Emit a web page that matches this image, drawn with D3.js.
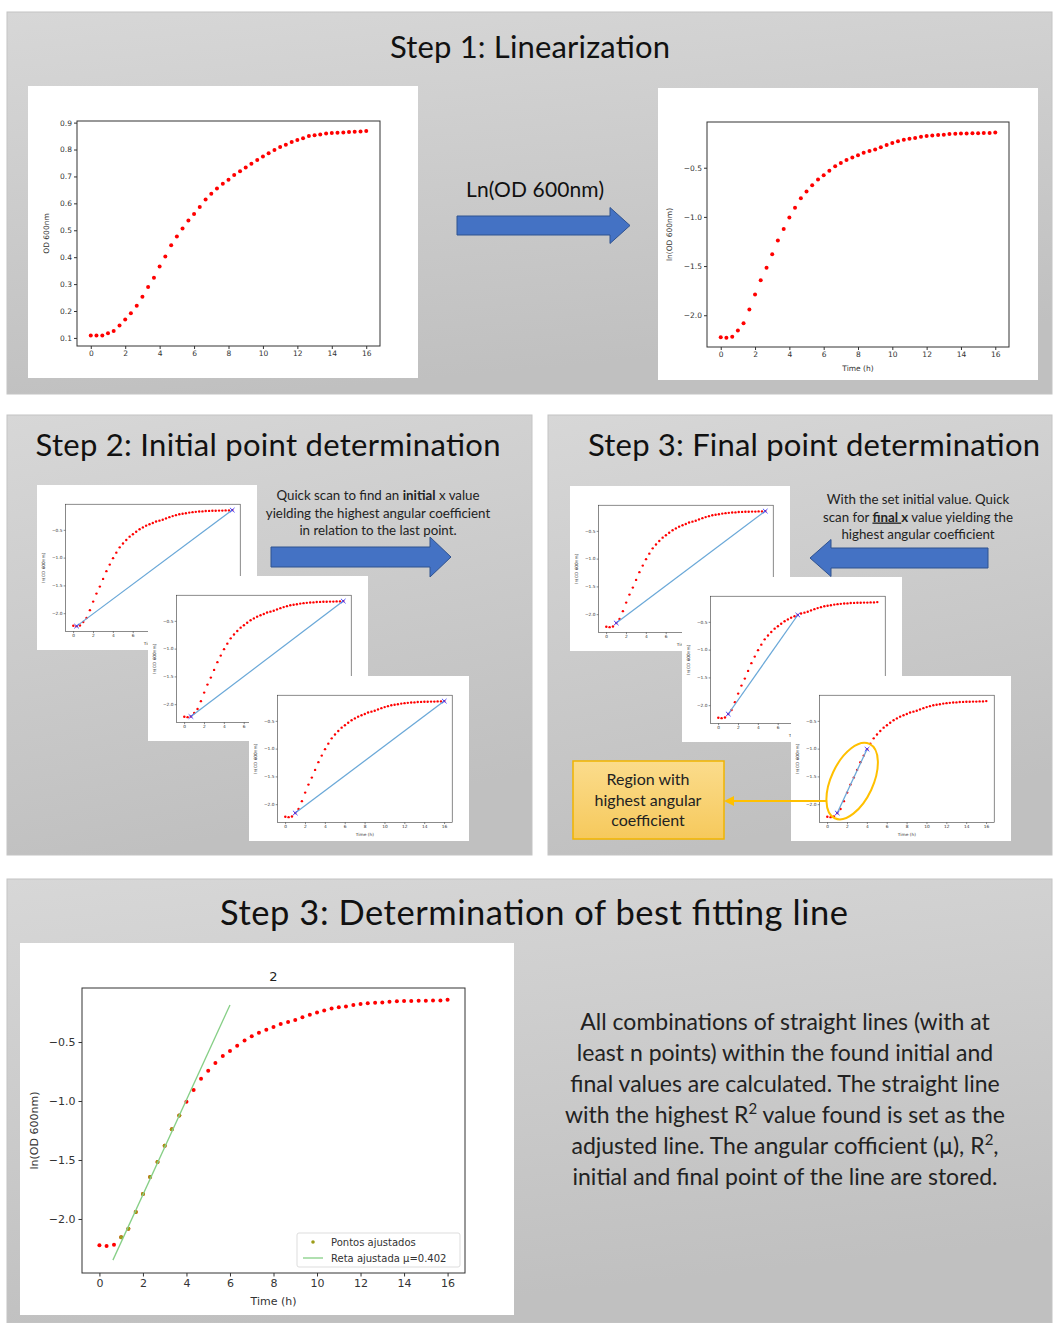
<!DOCTYPE html>
<html>
<head>
<meta charset="utf-8">
<script src="https://cdn.jsdelivr.net/npm/d3@7"></script>
<style>
  body { margin: 0; background: #fff; }
</style>
</head>
<body>
<svg id="fig" width="1055" height="1323"></svg>
<script>
// sampling times (h), one reading every 20 min
const timeH = [0, 0.33, 0.67, 1, 1.33, 1.67, 2, 2.33, 2.67, 3, 3.33, 3.67, 4, 4.33, 4.67, 5, 5.33, 5.67,
  6, 6.33, 6.67, 7, 7.33, 7.67, 8, 8.33, 8.67, 9, 9.33, 9.67, 10, 10.33, 10.67, 11, 11.33, 11.67,
  12, 12.33, 12.67, 13, 13.33, 13.67, 14, 14.33, 14.67, 15, 15.33, 15.67, 16];

// OD 600nm
const odValues = [0.109, 0.109, 0.109, 0.117, 0.126, 0.146, 0.168, 0.192, 0.220, 0.253, 0.289, 0.324,
  0.365, 0.403, 0.444, 0.477, 0.507, 0.536, 0.560, 0.586, 0.614, 0.636, 0.655, 0.673, 0.688, 0.705,
  0.719, 0.733, 0.747, 0.761, 0.774, 0.786, 0.798, 0.809, 0.818, 0.828, 0.835, 0.842, 0.850, 0.853,
  0.856, 0.860, 0.861, 0.862, 0.863, 0.865, 0.866, 0.867, 0.869];

// ln(OD 600nm)
const lnOdValues = [-2.223, -2.229, -2.218, -2.155, -2.082, -1.941, -1.788, -1.644, -1.517, -1.379,
  -1.240, -1.122, -1.006, -0.907, -0.811, -0.743, -0.678, -0.619, -0.576, -0.531, -0.486, -0.452,
  -0.421, -0.395, -0.373, -0.347, -0.331, -0.314, -0.291, -0.268, -0.249, -0.232, -0.215, -0.206,
  -0.198, -0.186, -0.178, -0.172, -0.167, -0.164, -0.158, -0.155, -0.153, -0.153, -0.150, -0.150,
  -0.147, -0.147, -0.141];

// tick labels
const timeTicks = [0, 2, 4, 6, 8, 10, 12, 14, 16];
const odTicks = [0.1, 0.2, 0.3, 0.4, 0.5, 0.6, 0.7, 0.8, 0.9];
const lnTicks = [-0.5, -1.0, -1.5, -2.0];

// scan steps: [start index, end index] of the straight line on each mini plot
const initialScan = [[1, 48], [2, 48], [3, 48]];
const finalScan = [[3, 48], [3, 24], [3, 12]];

// best fitting line
const fittedPoints = [3, 11];        // first and last index of "Pontos ajustados"
const fitMu = 0.402;
const fitIntercept = -2.598;
const fitLineT = [0.62, 6.0];

const svg = d3.select("#fig");
const defs = svg.append("defs");

const grad = defs.append("linearGradient").attr("id", "panelGrad")
  .attr("x1", 0).attr("y1", 0).attr("x2", 0.25).attr("y2", 1);
grad.append("stop").attr("offset", "0%").attr("stop-color", "#d7d7d7");
grad.append("stop").attr("offset", "100%").attr("stop-color", "#c0c0c0");

const boxGrad = defs.append("linearGradient").attr("id", "boxGrad")
  .attr("x1", 0).attr("y1", 0).attr("x2", 0).attr("y2", 1);
boxGrad.append("stop").attr("offset", "0%").attr("stop-color", "#fbdc8c");
boxGrad.append("stop").attr("offset", "100%").attr("stop-color", "#f6c95c");

defs.append("marker").attr("id", "yArrow")
  .attr("viewBox", "0 0 10 10").attr("refX", 2).attr("refY", 5)
  .attr("markerWidth", 5).attr("markerHeight", 5).attr("orient", "auto-start-reverse")
  .append("path").attr("d", "M0,0 L10,5 L0,10 z").attr("fill", "#ffc000");

// gray panels
const panels = [
  { x: 7, y: 12, w: 1045, h: 382 },
  { x: 7, y: 415, w: 525, h: 440 },
  { x: 548, y: 415, w: 504, h: 440 },
  { x: 7, y: 879, w: 1045, h: 444 }
];
svg.selectAll("rect.panel").data(panels).join("rect")
  .attr("class", "panel")
  .attr("x", d => d.x).attr("y", d => d.y)
  .attr("width", d => d.w).attr("height", d => d.h)
  .attr("fill", "url(#panelGrad)")
  .attr("stroke", "#c4c4c4");

const titleFont = "Lato, 'Open Sans', sans-serif";
function title(x, y, txt, size, len) {
  svg.append("text").attr("x", x).attr("y", y)
    .attr("text-anchor", "middle").attr("font-family", titleFont)
    .attr("font-size", size).attr("fill", "#111")
    .attr("textLength", len).attr("lengthAdjust", "spacing").text(txt);
}
title(530, 58, "Step 1: Linearization", 31, 280);
title(268, 456, "Step 2: Initial point determination", 31, 465);
title(814, 456, "Step 3: Final point determination", 31, 452);
title(534, 925, "Step 3: Determination of best fitting line", 34.5, 628);

// block arrow (tip left or right of tail)
function blockArrow(tail, tip, yc, shaft, head, headLen) {
  const dir = tip > tail ? 1 : -1;
  const hx = tip - dir * headLen;
  const pts = [[tail, yc - shaft / 2], [hx, yc - shaft / 2], [hx, yc - head / 2], [tip, yc],
    [hx, yc + head / 2], [hx, yc + shaft / 2], [tail, yc + shaft / 2]];
  svg.append("path").attr("d", d3.line()(pts) + "Z")
    .attr("fill", "#4472c4").attr("stroke", "#2f528f").attr("stroke-width", 1);
}

// generic matplotlib-like plot card
function drawPlot(parent, o) {
  const g = parent.append("g").attr("transform", o.transform);
  g.append("rect").attr("width", o.w).attr("height", o.h).attr("fill", "#fff");

  const x = d3.scaleLinear().domain([-0.8, 16.8]).range([o.left, o.right]);
  const y = d3.scaleLinear().domain(o.yDomain).range([o.bottom, o.top]);

  const xa = g.append("g").attr("transform", `translate(0,${o.bottom})`)
    .call(d3.axisBottom(x).tickValues(timeTicks).tickFormat(d3.format("d"))
      .tickSizeOuter(0).tickSize(o.tick).tickPadding(o.pad));
  const ya = g.append("g").attr("transform", `translate(${o.left},0)`)
    .call(d3.axisLeft(y).tickValues(o.yTicks).tickFormat(d3.format(".1f"))
      .tickSizeOuter(0).tickSize(o.tick).tickPadding(o.pad));
  [xa, ya].forEach(a => {
    a.select(".domain").remove();
    a.selectAll("line").attr("stroke", "#333").attr("stroke-width", o.frameW);
    a.selectAll("text").attr("font-family", "'DejaVu Sans', sans-serif")
      .attr("font-size", o.font).attr("fill", "#333");
  });

  g.append("rect").attr("x", o.left).attr("y", o.top)
    .attr("width", o.right - o.left).attr("height", o.bottom - o.top)
    .attr("fill", "none").attr("stroke", "#333").attr("stroke-width", o.frameW);

  if (o.ylabel) {
    g.append("text")
      .attr("transform", `translate(${o.ylabelX},${(o.top + o.bottom) / 2}) rotate(-90)`)
      .attr("text-anchor", "middle").attr("font-family", "'DejaVu Sans', sans-serif")
      .attr("font-size", o.font).attr("fill", "#333").text(o.ylabel);
  }
  if (o.xlabel) {
    g.append("text").attr("x", (o.left + o.right) / 2).attr("y", o.xlabelY)
      .attr("text-anchor", "middle").attr("font-family", "'DejaVu Sans', sans-serif")
      .attr("font-size", o.font).attr("fill", "#333").text(o.xlabel);
  }

  g.append("g").selectAll("circle").data(o.values).join("circle")
    .attr("cx", (d, i) => x(timeH[i])).attr("cy", d => y(d))
    .attr("r", o.r).attr("fill", "#ff0000");

  return { g, x, y };
}

// layout shared by every ln(OD) card (380 x 292 base size)
const lnLayout = {
  w: 380, h: 292, left: 49, right: 351, top: 34, bottom: 259,
  yDomain: [-2.323, -0.035], yTicks: lnTicks, tick: 3, pad: 2, font: 7.5, frameW: 1,
  ylabel: "ln(OD 600nm)", ylabelX: 14, xlabel: "Time (h)", xlabelY: 283,
  values: lnOdValues, r: 2
};

// ---- Step 1 ----
drawPlot(svg, {
  transform: "translate(28,86)", w: 390, h: 292,
  left: 49, right: 352, top: 35, bottom: 260,
  yDomain: [0.07, 0.906], yTicks: odTicks, tick: 3, pad: 2, font: 7.5, frameW: 1,
  ylabel: "OD 600nm", ylabelX: 21, values: odValues, r: 2
});
drawPlot(svg, Object.assign({}, lnLayout, { transform: "translate(658,88)" }));

blockArrow(457, 630, 225.5, 19, 36, 20);
svg.append("text").attr("x", 535).attr("y", 197).attr("text-anchor", "middle")
  .attr("font-family", titleFont).attr("font-size", 21).attr("fill", "#111")
  .attr("textLength", 138).attr("lengthAdjust", "spacing")
  .text("Ln(OD 600nm)");

// ---- mini scan cards ----
const miniSX = 220 / 380, miniSY = 165 / 292;
function miniCard(cx, cy, seg) {
  const p = drawPlot(svg, Object.assign({}, lnLayout, {
    transform: `translate(${cx},${cy}) scale(${miniSX},${miniSY})`, r: 2.1
  }));
  const ends = seg.map(i => [p.x(timeH[i]), p.y(lnOdValues[i])]);
  p.g.append("path").attr("d", d3.line()(ends))
    .attr("stroke", "#6aa8d8").attr("stroke-width", 2.2).attr("fill", "none");
  p.g.selectAll("path.xm").data(ends).join("path").attr("class", "xm")
    .attr("d", d => `M${d[0] - 4},${d[1] - 4}L${d[0] + 4},${d[1] + 4}M${d[0] - 4},${d[1] + 4}L${d[0] + 4},${d[1] - 4}`)
    .attr("stroke", "#3b3bff").attr("stroke-width", 1.6);
  return { p, ends, cx, cy };
}

// Step 2
const step2Pos = [[37, 485], [148, 576], [249, 676]];
step2Pos.forEach((pos, k) => miniCard(pos[0], pos[1], initialScan[k]));

const bodyFont = "Lato, 'Open Sans', sans-serif";
function textBlock(x, y, lh, size, lines) {
  const t = svg.append("text").attr("font-family", bodyFont).attr("font-size", size)
    .attr("fill", "#222").attr("text-anchor", "middle");
  lines.forEach((parts, i) => {
    const line = t.append("tspan").attr("x", x).attr("y", y + i * lh);
    parts.forEach(p => {
      const s = line.append("tspan").text(p.t);
      if (p.b) s.attr("font-weight", "bold");
      if (p.u) s.attr("text-decoration", "underline");
      if (p.sup) s.attr("baseline-shift", "super").attr("font-size", size * 0.65);
    });
  });
}

textBlock(378, 500, 17.5, 13.3, [
  [{ t: "Quick scan to find an " }, { t: "initial", b: true }, { t: " x value" }],
  [{ t: "yielding the highest angular coefficient" }],
  [{ t: "in relation to the last point." }]
]);
blockArrow(271, 451, 557, 20, 40, 21);

// Step 3 (final point)
const step3Pos = [[570, 486], [682, 577], [791, 676]];
let lastCard;
step3Pos.forEach((pos, k) => { lastCard = miniCard(pos[0], pos[1], finalScan[k]); });

textBlock(918, 504, 17.5, 13.3, [
  [{ t: "With the set initial value. Quick" }],
  [{ t: "scan for " }, { t: "final ", b: true, u: true }, { t: "x", b: true }, { t: " value yielding the" }],
  [{ t: "highest angular coefficient" }]
]);
blockArrow(988, 810, 558, 20, 37, 21);

// ellipse around the steepest region on the last card
{
  const a = lastCard.ends[0], b = lastCard.ends[1];
  const ex = lastCard.cx + miniSX * (a[0] + b[0]) / 2;
  const ey = lastCard.cy + miniSY * (a[1] + b[1]) / 2;
  svg.append("ellipse").attr("cx", ex).attr("cy", ey).attr("rx", 21).attr("ry", 41)
    .attr("transform", `rotate(25,${ex},${ey})`)
    .attr("fill", "none").attr("stroke", "#ffc000").attr("stroke-width", 2);
  svg.append("line").attr("x1", ex - 25).attr("y1", 801).attr("x2", 732).attr("y2", 801)
    .attr("stroke", "#ffc000").attr("stroke-width", 2).attr("marker-end", "url(#yArrow)");
}

svg.append("rect").attr("x", 573).attr("y", 761).attr("width", 151).attr("height", 78)
  .attr("fill", "url(#boxGrad)").attr("stroke", "#f0b400").attr("stroke-width", 1.5);
textBlock(648, 785, 20.5, 16, [
  [{ t: "Region with" }],
  [{ t: "highest angular" }],
  [{ t: "coefficient" }]
]);

// ---- best fitting line ----
const best = drawPlot(svg, {
  transform: "translate(20,943)", w: 494, h: 372,
  left: 62, right: 445, top: 45, bottom: 330,
  yDomain: [-2.458, -0.042], yTicks: lnTicks, tick: 3.5, pad: 3, font: 11, frameW: 1,
  ylabel: "ln(OD 600nm)", ylabelX: 18, xlabel: "Time (h)", xlabelY: 362,
  values: lnOdValues, r: 2
});
best.g.append("text").attr("x", (62 + 445) / 2).attr("y", 38).attr("text-anchor", "middle")
  .attr("font-family", "'DejaVu Sans', sans-serif").attr("font-size", 13).attr("fill", "#222").text("2");

const fitIdx = d3.range(fittedPoints[0], fittedPoints[1] + 1);
best.g.append("g").selectAll("circle").data(fitIdx).join("circle")
  .attr("cx", i => best.x(timeH[i])).attr("cy", i => best.y(lnOdValues[i]))
  .attr("r", 2).attr("fill", "#9c9c18");

best.g.append("path")
  .attr("d", d3.line()(fitLineT.map(t => [best.x(t), best.y(fitMu * t + fitIntercept)])))
  .attr("stroke", "#86cf86").attr("stroke-width", 1.3).attr("fill", "none");

// legend
const lg = best.g.append("g").attr("transform", "translate(277,290)");
lg.append("rect").attr("width", 163).attr("height", 34).attr("rx", 2)
  .attr("fill", "#fff").attr("stroke", "#ddd");
lg.append("circle").attr("cx", 16).attr("cy", 9).attr("r", 1.8).attr("fill", "#9c9c18");
lg.append("line").attr("x1", 6).attr("x2", 26).attr("y1", 25).attr("y2", 25)
  .attr("stroke", "#86cf86").attr("stroke-width", 1.3);
lg.append("text").attr("x", 34).attr("y", 12.5).attr("font-family", "'DejaVu Sans', sans-serif")
  .attr("font-size", 10).attr("fill", "#333").text("Pontos ajustados");
lg.append("text").attr("x", 34).attr("y", 28.5).attr("font-family", "'DejaVu Sans', sans-serif")
  .attr("font-size", 10).attr("fill", "#333").text("Reta ajustada \u03bc=" + fitMu);

// description
textBlock(785, 1030, 31, 23, [
  [{ t: "All combinations of straight lines (with at" }],
  [{ t: "least n points) within the found initial and" }],
  [{ t: "final values are calculated. The straight line" }],
  [{ t: "with the highest R" }, { t: "2", sup: true }, { t: " value found is set as the" }],
  [{ t: "adjusted line. The angular cofficient (\u03bc), R" }, { t: "2", sup: true }, { t: "," }],
  [{ t: "initial and final point of the line are stored." }]
]);
</script>
</body>
</html>
